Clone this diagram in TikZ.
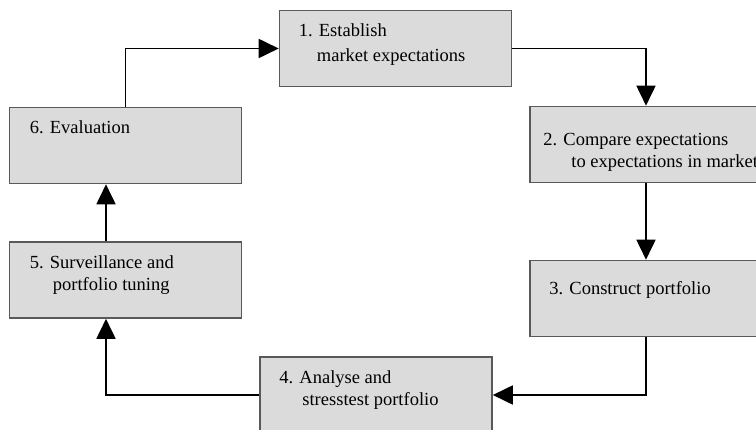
\documentclass[tikz,border=0pt]{standalone}
\usepackage{fontspec}
\setmainfont{Liberation Serif}
\usetikzlibrary{positioning,arrows.meta}
\definecolor{boxfill}{gray}{0.86}
\definecolor{boxline}{gray}{0.35}

\begin{document}
\begin{tikzpicture}[x=1pt, y=-1pt,
    stage/.style={draw=boxline, fill=boxfill, line width=1.6pt,
      minimum width=232pt, minimum height=76pt, inner sep=0pt},
    stagetext/.style={inner sep=0pt, align=left,
      font=\fontsize{18.5}{22}\selectfont},
    flow/.style={line width=1.8pt, -{Triangle[length=20pt,width=19pt]}}
  ]
  \useasboundingbox (0,0) rectangle (756,430);
  \clip (0,0) rectangle (756,430);

  % the six stages of the cycle
  \node [stage] (s1) at (395.5,48.5) {};
  \node [stage] (s2) at (646,144.5) {};
  \node [stage] (s3) at (646,298.5) {};
  \node [stage] (s4) at (376,395) {};
  \node [stage] (s5) at (125.5,280) {};
  \node [stage] (s6) at (125.5,145.5) {};

  % texts sit in the upper left corner of each box
  \node [stagetext, below right=14pt and 20pt of s1.north west] (t1)
    {1. Establish\\[3pt]\hspace*{18pt}market expectations};
  \node [stagetext, below right=27pt and 14pt of s2.north west] (t2)
    {2. Compare expectations\\\hspace*{28pt}to expectations in market};
  \node [stagetext, below right=22pt and 20pt of s3.north west] (t3)
    {3. Construct portfolio};
  \node [stagetext, below right=14pt and 20pt of s4.north west] (t4)
    {4. Analyse and\\\hspace*{23pt}stresstest portfolio};
  \node [stagetext, below right=14pt and 21pt of s5.north west] (t5)
    {5. Surveillance and\\\hspace*{23pt}portfolio tuning};
  \node [stagetext, below right=14pt and 21pt of s6.north west] (t6)
    {6. Evaluation};

  % connectors
  \draw [flow] (s6.north) |- (s1.west);
  \draw [flow] (s1.east) -| (s2.north);
  \draw [flow] (s2.south) -- (s3.north);
  \draw [flow] (s3.south) |- (s4.east);
  \draw [flow] (s4.west) -| ([xshift=-19.5pt]s5.south);
  \draw [flow] ([xshift=-19.5pt]s5.north) -- ([xshift=-19.5pt]s6.south);
\end{tikzpicture}
\end{document}
